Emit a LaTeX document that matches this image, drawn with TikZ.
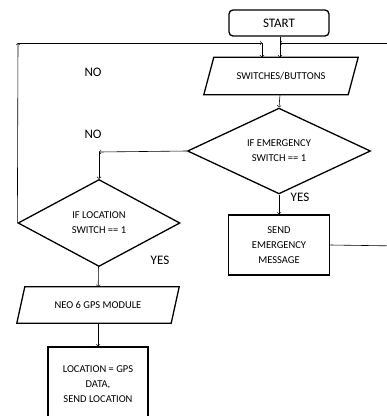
\documentclass[tikz,border=0pt]{standalone}
\usepackage{fontspec}
\setmainfont{Carlito}
\usetikzlibrary{shapes.geometric}
\begin{document}
\begin{tikzpicture}[x=1pt,y=-1pt,
  startbox/.style={draw,line width=1.3pt,rounded corners=4pt,minimum width=100pt,minimum height=26pt,font=\fontsize{13}{15}\selectfont},
  procbox/.style={draw,line width=1.5pt,align=center,inner sep=0pt,font=\fontsize{10.5}{15}\selectfont},
  iobox/.style={inner sep=0pt,font=\fontsize{10.5}{15}\selectfont},
  slantline/.style={line width=1.3pt,line join=miter},
  decision/.style={draw,line width=1.3pt,diamond,align=center,inner sep=0pt,font=\fontsize{10.5}{15}\selectfont},
  lbl/.style={font=\fontsize{13}{15}\selectfont},
  flow/.style={->,line width=0.6pt}]
\useasboundingbox (0,0) rectangle (387,416);
\clip (0,0) rectangle (387,416);

\node[startbox] (start) at (279,23) {START};
\node[iobox,minimum width=144pt,minimum height=37pt] (sw) at (281,76) {SWITCHES/BUTTONS};
\draw[slantline] ([xshift=5pt]sw.north west) -- ([xshift=5pt]sw.north east)
  -- ([xshift=-5pt]sw.south east) -- ([xshift=-5pt]sw.south west) -- cycle;
\node[decision,minimum width=183pt,minimum height=85pt] (emg) at (279,151) {IF EMERGENCY\\SWITCH == 1};
\node[procbox,minimum width=101pt,minimum height=60pt] (send) at (279,245) {SEND\\EMERGENCY\\MESSAGE};

\node[decision,minimum width=162pt,minimum height=87pt] (loc) at (99,223) {IF LOCATION\\SWITCH == 1};
\node[iobox,minimum width=154pt,minimum height=36pt] (neo) at (98,305) {NEO 6 GPS MODULE};
\draw[slantline] ([xshift=4pt]neo.north west) -- ([xshift=4pt]neo.north east)
  -- ([xshift=-4pt]neo.south east) -- ([xshift=-4pt]neo.south west) -- cycle;
\node[procbox,minimum width=100pt,minimum height=74pt] (data) at (98,384) {LOCATION = GPS\\DATA,\\SEND LOCATION};

\node[lbl] (no1) at (93,72) {NO};
\node[lbl] (no2) at (93,134) {NO};
\node[lbl] (yes1) at (300,197) {YES};
\node[lbl] (yes2) at (160,260) {YES};

\coordinate (lc1) at (18,43);
\coordinate (lc2) at (262,43);
\coordinate (rc1) at (400,246);
\coordinate (rc2) at (400,43);
\coordinate (rc3) at (280,43);
\coordinate (nc) at (99,152);

\draw[flow] (start.south -| rc3) -- (sw.north -| rc3);
\draw[flow] (sw.south -| rc3) -- (emg.north);
\draw[flow] (emg) -- (send);
\draw[flow] (emg.west) -- (nc);
\draw[flow] (nc) -- (loc.north);
\draw[flow] (loc) -- (neo);
\draw[flow] (neo) -- (data);

% loop back when no location switch
\draw[flow] (loc.west) -- (lc1);
\draw[flow] (lc1) -- (lc2);
\draw[flow] (lc2) -- (lc2 |- sw.north);

% loop back after the message
\draw[line width=0.6pt] (send.east) -- (rc1) -- (rc2);
\draw[flow] (rc2) -- (rc3);
\end{tikzpicture}
\end{document}
